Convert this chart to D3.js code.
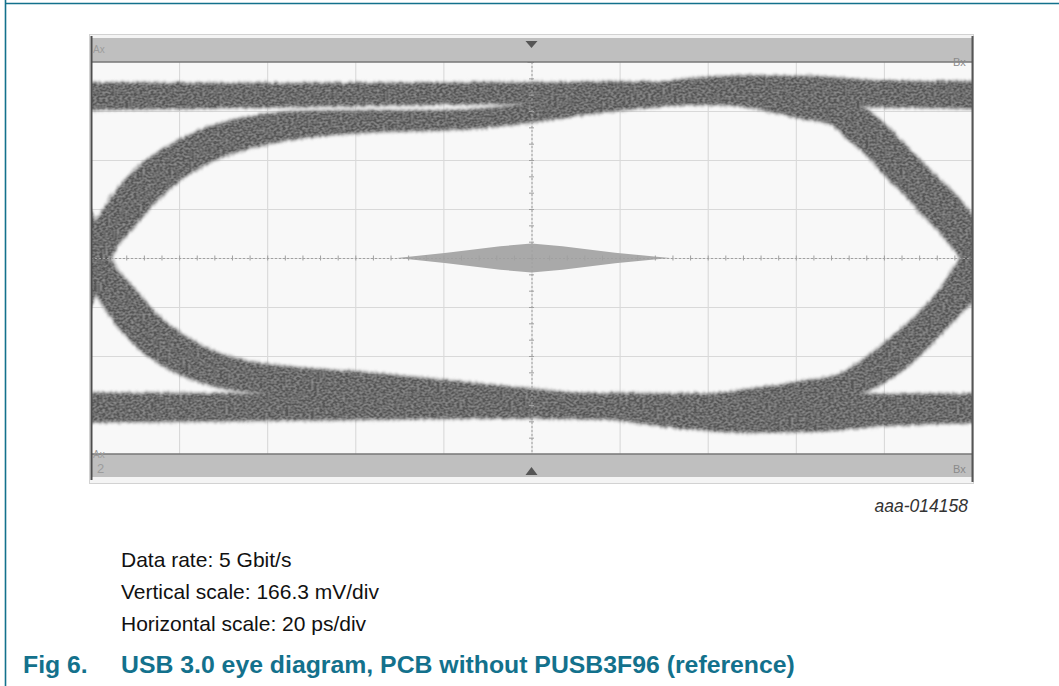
<!DOCTYPE html>
<html><head><meta charset="utf-8">
<script src="https://cdn.jsdelivr.net/npm/d3@7"></script>
<style>
html,body{margin:0;padding:0;background:#fff;}
svg{display:block;font-family:"Liberation Sans",Arial,Helvetica,sans-serif;}
</style></head><body>
<svg id="c" width="1059" height="686"></svg>
<script>
// ---------------- data ----------------
// horizontal: 10 div x 20 ps/div ; vertical: 8 div x 166.3 mV/div
const timeDomainPs = [0, 200];
const voltDomainMv = [-665.2, 665.2];
const timeGridPs = [20, 40, 60, 80, 100, 120, 140, 160, 180];
const voltGridMv = [-498.9, -332.6, -166.3, 0, 166.3, 332.6, 498.9];
const timeMinorPs = d3.range(0, 200.1, 4);
const voltMinorMv = d3.range(-665.2, 665.3, 55.43);

// trace envelopes: [time ps, upper mV, lower mV]
const topRail = [[-2,594,504],[47.5,592,514],[79.2,594,522],[100,595,524],[138.3,597,521],[202,597,509]];
const bottomRail = [[-2,-458,-557],[47.5,-462,-550],[92.9,-458,-543],[138.3,-462,-550],[202,-462,-557]];
const riseLeft = [[-2.5,10,-210],[0.5,102,-143],[5.0,214,17],[10.0,299,112],[15.0,356,197],[20.2,400,265],
  [27.0,445,326],[36.1,479,373],[47.5,497,407],[63.3,500,428],[79.2,500,434],[92.9,512,448],[106.5,540,475],
  [120.1,570,502],[133.7,604,523],[149.6,618,536],[165.5,614,536],[179.1,601,519],[202,597,509]];
const fallLeft = [[-2.5,210,-10],[0.5,143,-102],[5.0,-17,-210],[10.0,-109,-295],[15.0,-193,-353],[20.2,-255,-394],
  [27.0,-312,-431],[36.1,-353,-455],[47.5,-373,-468],[63.3,-390,-475],[79.2,-414,-482],[92.9,-434,-499],
  [106.5,-455,-523],[120.1,-475,-550],[133.7,-496,-577],[149.6,-502,-591],[165.5,-502,-587],[179.1,-489,-570],[202,-475,-557]];
const fallRight = [[138,545,540],[151.9,550,505],[161.0,546,475],[167.8,536,455],[172.3,526,400],[176.8,496,339],[179.1,468,299],
  [183.7,400,231],[188.2,333,156],[192.7,265,88],[197.3,197,3],[200.0,146,-48],[204.1,61,-143]];
const riseRight = [[135,-480,-485],[147.3,-450,-496],[161.0,-421,-496],[170.0,-394,-482],[176.8,-329,-448],[183.7,-244,-387],
  [188.2,-183,-329],[192.7,-109,-261],[197.3,-3,-190],[200.0,48,-146],[204.1,136,-61]];

// jitter histogram at the centre: time ps, half height mV
const jitterT = [69.5, 80.8, 92.9, 100, 107, 119, 131.4];
const jitterHalfMv = [0, 18, 40, 49, 40, 18, 0];

const noteLines = ["Data rate: 5 Gbit/s", "Vertical scale: 166.3 mV/div", "Horizontal scale: 20 ps/div"];
const figLabel = "Fig 6.";
const figTitle = "USB 3.0 eye diagram, PCB without PUSB3F96 (reference)";
const figCode = "aaa-014158";

// ---------------- drawing ----------------
const svg = d3.select("#c");
const teal = "#13718c";
const L = 91, R = 972, T = 62, B = 454;
const x = d3.scaleLinear().domain(timeDomainPs).range([L, R]);
const y = d3.scaleLinear().domain(voltDomainMv).range([B, T]);

const defs = svg.append("defs");
defs.append("clipPath").attr("id","plotClip").append("rect")
  .attr("x",L).attr("y",T).attr("width",R-L).attr("height",B-T);
const f = defs.append("filter").attr("id","rough").attr("x","-5%").attr("y","-5%").attr("width","110%").attr("height","110%");
f.append("feTurbulence").attr("type","fractalNoise").attr("baseFrequency","0.55 0.09").attr("numOctaves",2).attr("seed",4).attr("result","n");
f.append("feDisplacementMap").attr("in","SourceGraphic").attr("in2","n").attr("scale",5)
  .attr("xChannelSelector","R").attr("yChannelSelector","G").attr("result","d");
f.append("feGaussianBlur").attr("in","d").attr("stdDeviation",0.9).attr("result","b");
f.append("feTurbulence").attr("type","fractalNoise").attr("baseFrequency","0.35 0.5").attr("numOctaves",1).attr("seed",9).attr("result","n2");
f.append("feColorMatrix").attr("in","n2").attr("type","matrix")
  .attr("values","0 0 0 0 1  0 0 0 0 1  0 0 0 0 1  0.45 0 0 0 -0.16").attr("result","w");
f.append("feComposite").attr("in","w").attr("in2","b").attr("operator","in").attr("result","wm");
const fm = f.append("feMerge");
fm.append("feMergeNode").attr("in","b");
fm.append("feMergeNode").attr("in","wm");

// page frame (teal)
svg.append("line").attr("x1",5.5).attr("x2",5.5).attr("y1",0).attr("y2",686).attr("stroke",teal).attr("stroke-width",1.6);
svg.append("line").attr("x1",5).attr("x2",1059).attr("y1",3.5).attr("y2",3.5).attr("stroke",teal).attr("stroke-width",1.6);

// scope screenshot frame
svg.append("rect").attr("x",L-1.5).attr("y",34.5).attr("width",R-L+3).attr("height",449).attr("fill","#f4f4f4").attr("stroke","#d2d2d2");
svg.append("rect").attr("x",L).attr("y",38).attr("width",R-L).attr("height",T-38).attr("fill","#bfbfbf");
svg.append("rect").attr("x",L).attr("y",B).attr("width",R-L).attr("height",477-B).attr("fill","#bfbfbf");
svg.append("rect").attr("x",L).attr("y",T).attr("width",R-L).attr("height",B-T).attr("fill","#f8f8f8");

const plot = svg.append("g").attr("clip-path","url(#plotClip)");

// grid
plot.append("g").attr("transform",`translate(0,${T})`)
  .call(d3.axisTop(x).tickValues(timeGridPs).tickSize(-(B-T)).tickFormat(""))
  .call(g=>g.select(".domain").remove())
  .call(g=>g.selectAll("line").attr("stroke","#d6d6d6").attr("stroke-width",1));
plot.append("g").attr("transform",`translate(${L},0)`)
  .call(d3.axisLeft(y).tickValues(voltGridMv).tickSize(-(R-L)).tickFormat(""))
  .call(g=>g.select(".domain").remove())
  .call(g=>g.selectAll("line").attr("stroke","#d9d9d9").attr("stroke-width",1));

// traces
const area = d3.area().x(d=>x(d[0])).y0(d=>y(d[2])).y1(d=>y(d[1])).curve(d3.curveMonotoneX);
const bands = [topRail, bottomRail, riseLeft, fallLeft, fallRight, riseRight];
const tg = plot.append("g").attr("filter","url(#rough)");
tg.selectAll("path.halo").data(bands).join("path").attr("class","halo")
  .attr("d",area).attr("fill","none").attr("stroke","#8c8c8c").attr("stroke-width",4).attr("stroke-opacity",0.5);
tg.selectAll("path.band").data(bands).join("path").attr("class","band")
  .attr("d",area).attr("fill","#575757");

// jitter histogram
const jit = jitterT.map((t,i)=>[t, jitterHalfMv[i], -jitterHalfMv[i]]);
plot.append("path").datum(jit).attr("d",d3.area().x(d=>x(d[0])).y0(d=>y(d[2])).y1(d=>y(d[1])).curve(d3.curveLinear))
  .attr("fill","#a9a9a9");

// centre axes with minor ticks
const hAx = plot.append("g").attr("transform",`translate(0,${y(0)-2.5})`)
  .call(d3.axisBottom(x).tickValues(timeMinorPs).tickSize(5).tickFormat(""));
hAx.select(".domain").attr("transform","translate(0,2.5)").attr("stroke","#a0a0a0").attr("stroke-dasharray","2,2");
hAx.selectAll("line").attr("stroke","#a0a0a0");
const vAx = plot.append("g").attr("transform",`translate(${x(100)+2.5},0)`)
  .call(d3.axisLeft(y).tickValues(voltMinorMv).tickSize(5).tickFormat(""));
vAx.select(".domain").attr("transform","translate(-2.5,0)").attr("stroke","#a0a0a0").attr("stroke-dasharray","2,2");
vAx.selectAll("line").attr("stroke","#a0a0a0");

// band border lines
svg.append("line").attr("x1",L).attr("x2",R).attr("y1",T).attr("y2",T).attr("stroke","#777").attr("stroke-width",1.5);
svg.append("line").attr("x1",L).attr("x2",R).attr("y1",B).attr("y2",B).attr("stroke","#777").attr("stroke-width",1.5);
svg.append("line").attr("x1",L+0.5).attr("x2",L+0.5).attr("y1",36).attr("y2",480).attr("stroke","#4d4d4d").attr("stroke-width",2);
svg.append("line").attr("x1",R+0.5).attr("x2",R+0.5).attr("y1",36).attr("y2",482).attr("stroke","#555").attr("stroke-width",2);

// trigger markers
const cx = x(100);
svg.append("path").attr("d",`M${cx-6},41 L${cx+6},41 L${cx},48 Z`).attr("fill","#555");
svg.append("path").attr("d",`M${cx-6},475 L${cx+6},475 L${cx},467 Z`).attr("fill","#555");

// scope labels
const lab = (t,xx,yy,s,c)=>svg.append("text").attr("x",xx).attr("y",yy).attr("font-size",s).attr("fill",c).text(t);
lab("Ax",93,53,10,"#9c9c9c");
lab("Bx",953,66,11,"#8a8a8a");
lab("Ax",93,458,10,"#9c9c9c");
lab("2",97,473,13,"#9c9c9c");
lab("Bx",953,473,11,"#8a8a8a");

// texts
svg.append("text").attr("x",968).attr("y",512).attr("text-anchor","end").attr("font-size",17.5)
  .attr("font-style","italic").attr("fill","#333").text(figCode);
svg.selectAll("text.note").data(noteLines).join("text").attr("class","note")
  .attr("x",121).attr("y",(d,i)=>567+i*32).attr("font-size",21).attr("fill","#111").text(d=>d);
svg.append("text").attr("x",23).attr("y",673).attr("font-size",24.8).attr("font-weight","bold").attr("fill",teal).text(figLabel);
svg.append("text").attr("x",121).attr("y",673).attr("font-size",24.8).attr("font-weight","bold").attr("fill",teal).text(figTitle);
</script>
</body></html>
